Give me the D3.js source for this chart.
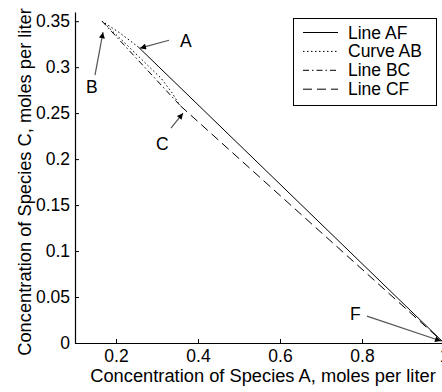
<!DOCTYPE html>
<html>
<head>
<meta charset="utf-8">
<script src="https://cdn.jsdelivr.net/npm/d3@7"></script>
<style>
  html, body { margin: 0; padding: 0; background: #fff; }
  svg { display: block; font-family: "Liberation Sans", Arial, sans-serif; }
</style>
</head>
<body>
<svg id="chart" width="442" height="392"></svg>
<script>
// ---- data ----
const xTicks = [0.2, 0.4, 0.6, 0.8, 1.0];
const yTicks = [0, 0.05, 0.1, 0.15, 0.2, 0.25, 0.3, 0.35];

const lineAF_x = [0.255, 1.0];
const lineAF_y = [0.3217, 0.0];

const curveAB_x = [0.255, 0.21, 0.166, 0.22, 0.275, 0.31, 0.337, 0.352];
const curveAB_y = [0.3217, 0.337, 0.350, 0.327, 0.303, 0.288, 0.272, 0.261];

const lineBC_x = [0.166, 0.357];
const lineBC_y = [0.350, 0.258];

const lineCF_x = [0.357, 1.0];
const lineCF_y = [0.258, 0.0];

const seriesNames = ["Line AF", "Curve AB", "Line BC", "Line CF"];
const seriesDash = ["none", "1.5,2.5", "6,3,1.5,3", "9,5"];

const annLabels = ["A", "B", "C", "F"];
const annLabelX = [0.356, 0.1268, 0.2976, 0.7707];
const annLabelY = [0.3221, 0.2717, 0.2098, 0.025];
const annTailX = [0.3293, 0.1488, 0.3341, 0.812];
const annTailY = [0.3293, 0.2913, 0.2337, 0.0293];
const annTipX = [0.2585, 0.1683, 0.3634, 0.9927];
const annTipY = [0.3207, 0.338, 0.250, 0.0022];

// ---- layout ----
const svg = d3.select("#chart");
const mLeft = 75, mRight = 444, mTop = 12, mBottom = 343;
const x = d3.scaleLinear().domain([0.1, 1.0]).range([mLeft, mRight]);
const y = d3.scaleLinear().domain([0, 0.36]).range([mBottom, mTop]);

const fmt = d => String(+d.toFixed(2));

// axes
const xAxis = d3.axisBottom(x).tickValues(xTicks).tickFormat(fmt)
  .tickSizeInner(-4).tickSizeOuter(0).tickPadding(7);
const yAxis = d3.axisLeft(y).tickValues(yTicks).tickFormat(fmt)
  .tickSizeInner(-4).tickSizeOuter(0).tickPadding(5);

const gx = svg.append("g").attr("transform", `translate(0,${mBottom})`).call(xAxis);
const gy = svg.append("g").attr("transform", `translate(${mLeft},0)`).call(yAxis);
[gx, gy].forEach(g => {
  g.selectAll("text").attr("font-size", 17.5).attr("fill", "#000")
    .attr("font-family", '"Liberation Sans", Arial, sans-serif');
  g.selectAll("line").attr("stroke", "#000");
  g.select(".domain").attr("stroke", "#000").attr("stroke-width", 1.2);
});

// axis titles
svg.append("text")
  .attr("x", 263).attr("y", 382)
  .attr("text-anchor", "middle").attr("font-size", 18.3).attr("fill", "#000")
  .text("Concentration of Species A, moles per liter");
svg.append("text")
  .attr("transform", `translate(31,182) rotate(-90)`)
  .attr("text-anchor", "middle").attr("font-size", 18.3).attr("fill", "#000")
  .text("Concentration of Species C, moles per liter");

// series
const line = d3.line().x(d => x(d[0])).y(d => y(d[1]));
const series = [
  d3.zip(lineAF_x, lineAF_y),
  d3.zip(curveAB_x, curveAB_y),
  d3.zip(lineBC_x, lineBC_y),
  d3.zip(lineCF_x, lineCF_y)
];
series.forEach((pts, i) => {
  svg.append("path")
    .attr("d", line(pts))
    .attr("fill", "none")
    .attr("stroke", "#000")
    .attr("stroke-width", 1)
    .attr("stroke-dasharray", seriesDash[i] === "none" ? null : seriesDash[i]);
});

// arrow marker
svg.append("defs").append("marker")
  .attr("id", "ah").attr("viewBox", "0 0 10 10")
  .attr("refX", 10).attr("refY", 5)
  .attr("markerWidth", 8).attr("markerHeight", 6)
  .attr("markerUnits", "userSpaceOnUse")
  .attr("orient", "auto")
  .append("path").attr("d", "M0,0 L10,5 L0,10 Z").attr("fill", "#000");

// annotations
annLabels.forEach((lab, i) => {
  svg.append("line")
    .attr("x1", x(annTailX[i])).attr("y1", y(annTailY[i]))
    .attr("x2", x(annTipX[i])).attr("y2", y(annTipY[i]))
    .attr("stroke", "#555").attr("stroke-width", 1.2)
    .attr("marker-end", "url(#ah)");
  svg.append("text")
    .attr("x", x(annLabelX[i])).attr("y", y(annLabelY[i]))
    .attr("font-size", 17.5).attr("fill", "#000")
    .text(lab);
});

// legend
const lg = svg.append("g");
lg.append("rect")
  .attr("x", 293.5).attr("y", 18.5).attr("width", 143).attr("height", 87)
  .attr("fill", "#fff").attr("stroke", "#000").attr("stroke-width", 1);
seriesNames.forEach((name, i) => {
  const yy = 32.5 + i * 18.9;
  lg.append("line")
    .attr("x1", 303).attr("x2", 338).attr("y1", yy).attr("y2", yy)
    .attr("stroke", "#000").attr("stroke-width", 1)
    .attr("stroke-dasharray", seriesDash[i] === "none" ? null : seriesDash[i]);
  lg.append("text")
    .attr("x", 348).attr("y", yy + 6)
    .attr("font-size", 17.5).attr("fill", "#000")
    .text(name);
});
</script>
</body>
</html>
